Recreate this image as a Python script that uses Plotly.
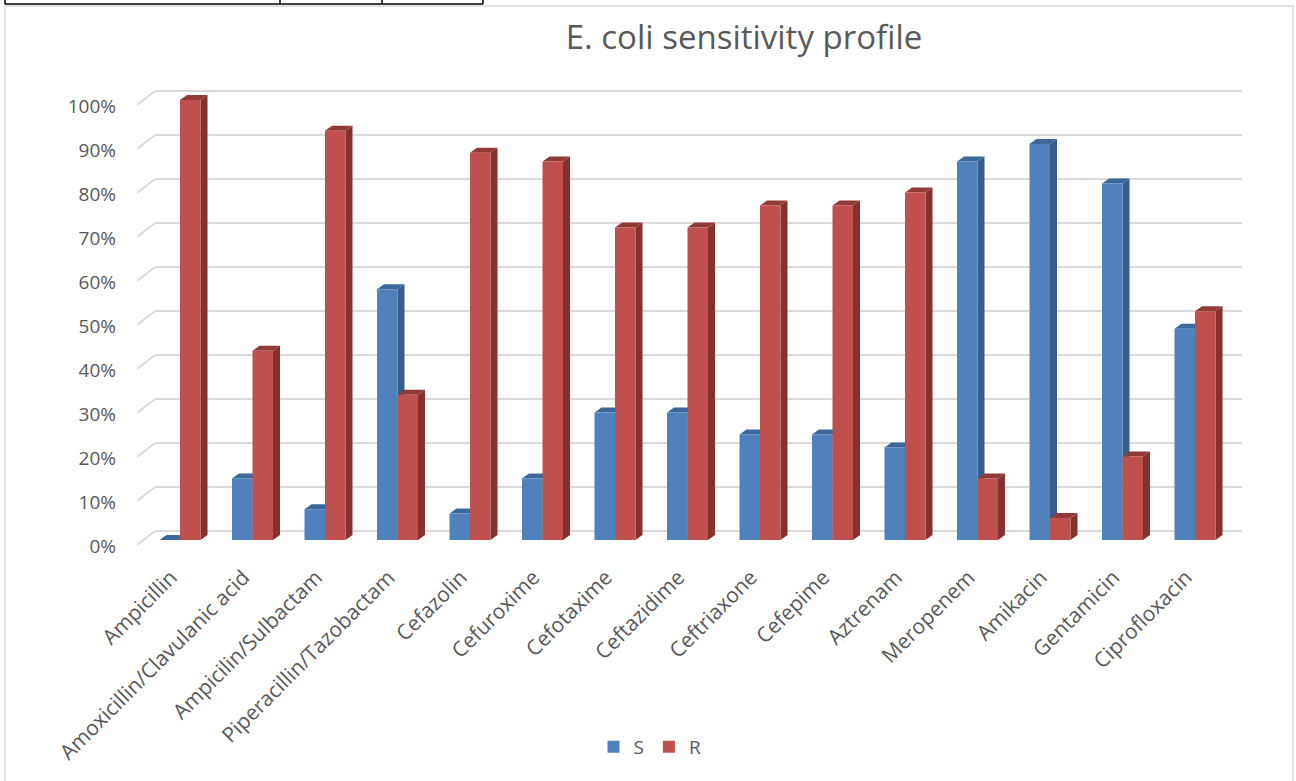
import plotly.graph_objects as go

# ---------------- data ----------------
categories = ["Ampicillin", "Amoxicillin/Clavulanic acid", "Ampicilin/Sulbactam",
              "Piperacillin/Tazobactam", "Cefazolin", "Cefuroxime", "Cefotaxime",
              "Ceftazidime", "Ceftriaxone", "Cefepime", "Aztrenam", "Meropenem",
              "Amikacin", "Gentamicin", "Ciprofloxacin"]
s_values = [0, 14, 7, 57, 6, 14, 29, 29, 24, 24, 21, 86, 90, 81, 48]
r_values = [100, 43, 93, 33, 88, 86, 71, 71, 76, 76, 79, 14, 5, 19, 52]
series_names = ["S", "R"]
y_ticks = [0, 10, 20, 30, 40, 50, 60, 70, 80, 90, 100]
y_tick_text = [f"{v}%" for v in y_ticks]

# ---------------- styling / geometry ----------------
W, H = 1296, 781
PX_X = 72.5          # pixels per category
PX_Y = 4.4           # pixels per percent
BAR_W = 20.5 / PX_X  # bar width in category units
DX = 7 / PX_X        # 3-D depth (x)
DY = 5 / PX_Y        # 3-D depth (y)
BACK_DY = 9 / PX_Y   # back wall offset
FRONT_DY = -5 / PX_Y
X0, X1 = (137 - 180) / PX_X, (1242 - 180) / PX_X
X_BACK = (155 - 180) / PX_X
Y0 = -(560 - 540) / PX_Y
Y1 = (540 - 85) / PX_Y
LABEL_SHIFT = 6 / PX_Y
XLABEL_SHIFT = -9 / PX_X

front_cols = ["#4F81BD", "#C0504D"]
side_cols = ["#385D8A", "#843230"]
top_cols = ["#3E679A", "#923A37"]
offsets = [-BAR_W, 0.0]
TXT = "#595959"
FONT = "Open Sans"

idx = list(range(len(categories)))
series_vals = [s_values, r_values]

fig = go.Figure()
for k in range(2):
    fig.add_trace(go.Bar(
        x=idx, y=series_vals[k], name=series_names[k], width=BAR_W, offset=offsets[k],
        marker=dict(color=front_cols[k], line=dict(width=0)),
        xaxis="x", yaxis="y",
        hovertemplate="%{y}%<extra>" + series_names[k] + "</extra>"))

shapes = []
# back-wall gridlines + floor diagonals
for v in y_ticks:
    shapes.append(dict(type="line", xref="x", yref="y", layer="below",
                       x0=X_BACK, x1=X1, y0=v + BACK_DY, y1=v + BACK_DY,
                       line=dict(color="#D9D9D9", width=2)))
    shapes.append(dict(type="line", xref="x", yref="y", layer="below",
                       x0=X0, x1=X_BACK, y0=v + FRONT_DY, y1=v + BACK_DY,
                       line=dict(color="#D9D9D9", width=2)))

# 3-D side and top faces, computed from data
for i in idx:
    for k in range(2):
        v = series_vals[k][i]
        L = i + offsets[k]
        R = L + BAR_W
        side = f"M {R},0 L {R+DX},{DY} L {R+DX},{v+DY} L {R},{v} Z"
        top = f"M {L},{v} L {L+DX},{v+DY} L {R+DX},{v+DY} L {R},{v} Z"
        shapes.append(dict(type="path", xref="x", yref="y", layer="below", path=side,
                           fillcolor=side_cols[k], line=dict(width=0)))
        shapes.append(dict(type="path", xref="x", yref="y", layer="below", path=top,
                           fillcolor=top_cols[k], line=dict(width=0)))

# chart frame and table lines above it
shapes.append(dict(type="rect", xref="paper", yref="paper",
                   x0=5 / W, x1=1293 / W, y0=-0.02, y1=1 - 6 / H,
                   line=dict(color="#D9D9D9", width=1.5)))
shapes.append(dict(type="line", xref="paper", yref="paper",
                   x0=5 / W, x1=483 / W, y0=1 - 4 / H, y1=1 - 4 / H,
                   line=dict(color="#000000", width=1.5)))
for xv in [5, 280, 382, 483]:
    shapes.append(dict(type="line", xref="paper", yref="paper",
                       x0=xv / W, x1=xv / W, y0=1 - 4 / H, y1=1.01,
                       line=dict(color="#000000", width=1.5)))

dom_x = [137 / W, 1242 / W]
dom_y = [1 - 560 / H, 1 - 85 / H]

fig.update_layout(
    template="none",
    width=W, height=H, autosize=False,
    margin=dict(l=0, r=0, t=0, b=0, pad=0),
    paper_bgcolor="white", plot_bgcolor="rgba(0,0,0,0)",
    barmode="overlay",
    shapes=shapes,
    font=dict(family=FONT, color=TXT),
    title=dict(text="E. coli sensitivity profile", x=744 / W, xanchor="center",
               y=1 - 37 / H, yanchor="middle",
               font=dict(family=FONT, size=33, color=TXT)),
    xaxis=dict(domain=dom_x, range=[X0, X1], showgrid=False, zeroline=False,
               showline=False, ticks="", automargin=False,
               tickvals=[i + XLABEL_SHIFT for i in idx], ticktext=categories,
               tickangle=-45, tickfont=dict(family=FONT, size=21, color=TXT),
               ticklabelstandoff=0, fixedrange=True),
    yaxis=dict(domain=dom_y, range=[Y0, Y1], showgrid=False, zeroline=False,
               showticklabels=False, ticks="", showline=False, fixedrange=True,
               automargin=False),
    yaxis2=dict(domain=dom_y, overlaying="y", anchor="x", side="left",
                range=[Y0 + LABEL_SHIFT, Y1 + LABEL_SHIFT],
                showgrid=False, zeroline=False, showline=False, ticks="",
                tickvals=y_ticks, ticktext=y_tick_text, automargin=False,
                tickfont=dict(family=FONT, size=19, color=TXT),
                ticklabelstandoff=20, fixedrange=True),
    legend=dict(orientation="h", x=650 / W, xanchor="center", y=1 - 747 / H,
                yanchor="middle", font=dict(family=FONT, size=19, color=TXT),
                itemwidth=30, bgcolor="rgba(0,0,0,0)"),
    showlegend=True,
)
# dummy trace to make yaxis2 render its labels
fig.add_trace(go.Scatter(x=[None], y=[None], yaxis="y2", xaxis="x",
                         showlegend=False, hoverinfo="skip"))

fig.write_html("out.html")
